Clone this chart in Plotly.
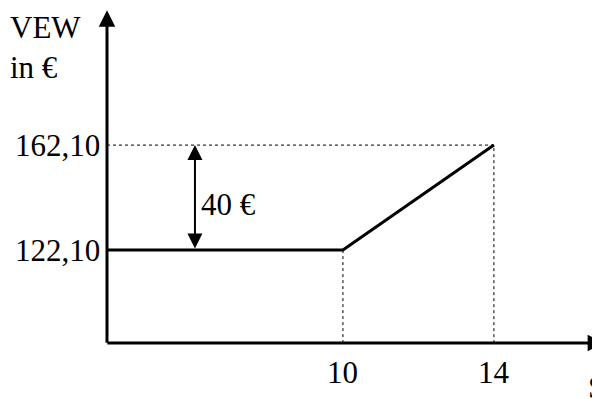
import plotly.graph_objects as go

# ---- data ----
s_points = [10, 14]                 # S breakpoints
vew_levels = [122.10, 162.10]       # VEW values
y_tick_labels = ["122,10", "162,10"]
x_tick_labels = ["10", "14"]
diff_label = "40 €"
y_title = "VEW<br>in €"
x_title = "S"

# ---- scale setup (axis origin and view range) ----
X_ORIGIN, Y_ORIGIN = 3.75, 86.7
X_RANGE = [1.1275, 17.022]
Y_RANGE = [62.32, 214.32]
X_TIP, Y_TIP = 16.92, 213.5
ARROW_X = 6.08

FONT = dict(family='"Liberation Serif", "Times New Roman", serif', size=31, color="black")

fig = go.Figure()

# dotted helper lines
fig.add_trace(go.Scatter(
    x=[X_ORIGIN, s_points[1], s_points[1]], y=[vew_levels[1], vew_levels[1], Y_ORIGIN],
    mode="lines", line=dict(color="black", width=1, dash="dot"), hoverinfo="skip"))
fig.add_trace(go.Scatter(
    x=[s_points[0], s_points[0]], y=[vew_levels[0], Y_ORIGIN],
    mode="lines", line=dict(color="black", width=1, dash="dot"), hoverinfo="skip"))

# main curve
fig.add_trace(go.Scatter(
    x=[X_ORIGIN, s_points[0], s_points[1]], y=[vew_levels[0], vew_levels[0], vew_levels[1]],
    mode="lines", line=dict(color="black", width=3), hoverinfo="skip"))

annotations = []
# axes with arrows
annotations.append(dict(x=X_TIP, y=Y_ORIGIN, ax=X_ORIGIN - 0.03, ay=Y_ORIGIN, xref="x", yref="y",
                        axref="x", ayref="y", showarrow=True, arrowhead=2, arrowsize=1.1,
                        arrowwidth=3, arrowcolor="black", text=""))
annotations.append(dict(x=X_ORIGIN, y=Y_TIP, ax=X_ORIGIN, ay=Y_ORIGIN - 0.5, xref="x", yref="y",
                        axref="x", ayref="y", showarrow=True, arrowhead=2, arrowsize=1.1,
                        arrowwidth=3, arrowcolor="black", text=""))
# double arrow (difference)
annotations.append(dict(x=ARROW_X, y=vew_levels[1], ax=ARROW_X, ay=vew_levels[0], xref="x", yref="y",
                        axref="x", ayref="y", showarrow=True, arrowhead=2, startarrowhead=2,
                        arrowside="end+start", arrowsize=1.5, startarrowsize=1.5,
                        arrowwidth=2, arrowcolor="black", text=""))
annotations.append(dict(x=ARROW_X, y=(vew_levels[0] + vew_levels[1]) / 2, xref="x", yref="y",
                        text=diff_label, showarrow=False, xanchor="left", xshift=4, yshift=-7,
                        font=FONT))

# y tick labels
for v, lab in zip(vew_levels, y_tick_labels):
    annotations.append(dict(x=X_ORIGIN, y=v, xref="x", yref="y", text=lab, showarrow=False,
                            xanchor="right", xshift=-5, font=FONT))
# x tick labels
for s, lab in zip(s_points, x_tick_labels):
    annotations.append(dict(x=s, y=Y_ORIGIN, xref="x", yref="y", text=lab, showarrow=False,
                            yanchor="top", yshift=-10, font=FONT))
# titles
annotations.append(dict(x=0.0, y=1.0, xref="paper", yref="paper", text=y_title, showarrow=False,
                        xanchor="left", yanchor="top", align="left", font=FONT))
annotations.append(dict(x=16.49, y=Y_ORIGIN, xref="x", yref="y", text=x_title, showarrow=False,
                        xanchor="left", yanchor="top", yshift=-25, xshift=-2, font=FONT))

fig.update_layout(
    width=600, height=399,
    margin=dict(l=0, r=0, t=0, b=0),
    paper_bgcolor="white", plot_bgcolor="white",
    showlegend=False,
    xaxis=dict(range=X_RANGE, visible=False, fixedrange=True),
    yaxis=dict(range=Y_RANGE, visible=False, fixedrange=True),
    annotations=annotations,
)

fig.write_html("out.html")
